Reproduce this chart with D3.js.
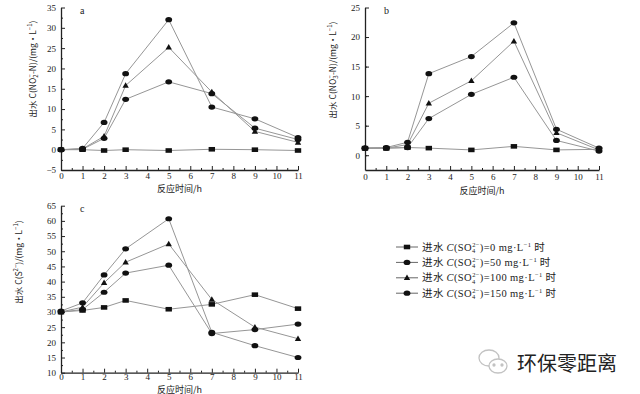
<!DOCTYPE html>
<html>
<head>
<meta charset="utf-8">
<script src="https://cdn.jsdelivr.net/npm/d3@7"></script>
<style>
body { margin: 0; background: #fff; }
svg { display: block; }
text { font-family: "Liberation Serif", "DejaVu Serif", serif; fill: #222; }
.cjk { font-family: "Noto Sans CJK SC", sans-serif; }
</style>
</head>
<body>
<svg width="640" height="394"></svg>
<script>
// hours of sampling
var hours = [0, 1, 2, 3, 5, 7, 9, 11];
var doses = ["0", "50", "100", "150"];
var shapes = ["square", "circle", "triangle", "circle"];

// panel a: nitrite
var a0 = [0, 0, -0.2, 0, -0.2, 0.1, 0, -0.2];
var a50 = [0, 0.1, 2.8, 12.4, 16.7, 13.8, 5.3, 2.5];
var a100 = [0, 0.2, 3.3, 15.8, 25.2, 14.2, 4.5, 1.8];
var a150 = [0, 0.3, 6.7, 18.7, 32, 10.5, 7.6, 3.0];

// panel b: nitrate
var b0 = [1.2, 1.2, 1.3, 1.2, 0.9, 1.5, 0.9, 1.0];
var b50 = [1.2, 1.2, 1.3, 6.2, 10.3, 13.2, 2.5, 0.7];
var b100 = [1.2, 1.2, 1.8, 8.8, 12.6, 19.3, 3.8, 0.9];
var b150 = [1.2, 1.3, 2.2, 13.8, 16.7, 22.4, 4.4, 1.2];

// panel c: sulfide
var c0 = [30, 30.5, 31.5, 33.8, 30.9, 32.5, 35.7, 31.1];
var c50 = [30, 30.8, 36.5, 42.8, 45.4, 22.9, 24.2, 26.0];
var c100 = [30, 31.6, 39.6, 46.4, 52.4, 34.1, 25.0, 21.2];
var c150 = [30.3, 33, 42.2, 50.8, 60.7, 23.3, 18.9, 15.0];

var svg = d3.select("svg");

var panels = [
    {name: "a", series: [a0, a50, a100, a150], xr: [61, 298], dom: [-5, 35], yr: [170, 7.5],
     label: ["出水 C(NO", "2", "−", "-N)/(mg·L", "−1", ")"], lx: 36, ly: 69, pad: 3, ty: 21.5},
    {name: "b", series: [b0, b50, b100, b150], xr: [365, 599], dom: [-2.5, 25], yr: [170, 7.5],
     label: ["出水 C(NO", "3", "−", "-N)/(mg·L", "−1", ")"], lx: 336, ly: 70, pad: 4, ty: 23.5},
    {name: "c", series: [c0, c50, c100, c150], xr: [61, 298], dom: [10, 65], yr: [372.7, 205.7],
     label: ["出水 C(S", "", "2−", ")/(mg·L", "−1", ")"], lx: 22, ly: 262, pad: 1, ty: 19.8}
];

function marker(g, shape, x, y) {
    if (shape == "square") {
        g.append("rect").attr("x", x - 3.2).attr("y", y - 2.3).attr("width", 6.4).attr("height", 4.6).attr("fill", "#111");
    } else if (shape == "triangle") {
        g.append("path").attr("d", "M" + (x - 3.2) + "," + (y + 2.3) + "L" + x + "," + (y - 3.2) + "L" + (x + 3.2) + "," + (y + 2.3) + "Z").attr("fill", "#111");
    } else {
        g.append("ellipse").attr("cx", x).attr("cy", y).attr("rx", 3.4).attr("ry", 2.6).attr("fill", "#111");
    }
}

panels.forEach(function(p) {
    var x = d3.scaleLinear().domain([0, 11]).range(p.xr);
    var y = d3.scaleLinear().domain(p.dom).range(p.yr);
    var g = svg.append("g");
    var step = 5;

    // minor ticks
    g.append("g").attr("transform", "translate(0," + p.yr[0] + ")")
        .call(d3.axisBottom(x).tickValues(d3.range(0.5, 11, 1)).tickSize(-2).tickFormat(""))
        .call(function(s) { s.select(".domain").remove(); });
    g.append("g").attr("transform", "translate(" + p.xr[0] + ",0)")
        .call(d3.axisLeft(y).tickValues(d3.range(p.dom[0] + 2.5, p.dom[1], 5)).tickSize(-2).tickFormat(""))
        .call(function(s) { s.select(".domain").remove(); });

    // major axes
    g.append("g").attr("transform", "translate(0," + p.yr[0] + ")")
        .call(d3.axisBottom(x).tickValues(d3.range(0, 12)).tickSizeInner(-4).tickSizeOuter(0).tickPadding(p.pad));
    var ticksY = d3.range(Math.ceil(p.dom[0] / step) * step, p.dom[1] + 0.1, step);
    g.append("g").attr("transform", "translate(" + p.xr[0] + ",0)")
        .call(d3.axisLeft(y).tickValues(ticksY).tickSizeInner(-4).tickSizeOuter(0).tickPadding(5));
    g.selectAll(".domain").attr("stroke", "#222").attr("stroke-width", 1.3);
    g.selectAll(".tick line").attr("stroke", "#222");
    g.selectAll(".tick text").style("font-family", "'Liberation Serif', serif").attr("font-size", 9).attr("fill", "#333");

    // lines
    var line = d3.line().x(function(d, i) { return x(hours[i]); }).y(function(d) { return y(d); });
    p.series.forEach(function(s) {
        g.append("path").datum(s).attr("d", line).attr("fill", "none").attr("stroke", "#969696").attr("stroke-width", 1);
    });
    p.series.forEach(function(s, k) {
        s.forEach(function(v, i) { marker(g, shapes[k], x(hours[i]), y(v)); });
    });

    // panel letter
    g.append("text").attr("x", p.xr[0] + 19).attr("y", p.yr[1] + 6).attr("font-size", 10).text(p.name);

    // x title
    g.append("text").attr("class", "cjk").attr("x", (p.xr[0] + p.xr[1]) / 2).attr("y", p.yr[0] + p.ty)
        .attr("text-anchor", "middle").attr("font-size", 9).attr("fill", "#333").text("反应时间/h");

    // y title
    var t = g.append("text").attr("class", "cjk").attr("transform", "translate(" + p.lx + "," + p.ly + ") rotate(-90)")
        .attr("text-anchor", "middle").attr("font-size", 8.5).attr("fill", "#333");
    t.append("tspan").text(p.label[0]);
    if (p.label[1]) t.append("tspan").attr("font-size", 6).attr("dy", 2).text(p.label[1]);
    t.append("tspan").attr("font-size", 6).attr("dx", p.label[1] ? -3 : 0).attr("dy", p.label[1] ? -6 : -4).text(p.label[2]);
    t.append("tspan").attr("dy", 4).text(p.label[3]);
    t.append("tspan").attr("font-size", 6).attr("dy", -4).text(p.label[4]);
    t.append("tspan").attr("dy", 4).text(p.label[5]);
});

// legend
var leg = svg.append("g");
doses.forEach(function(d, i) {
    var yy = 247 + i * 15.4;
    leg.append("line").attr("x1", 396).attr("x2", 418).attr("y1", yy).attr("y2", yy).attr("stroke", "#666").attr("stroke-width", 1);
    marker(leg, shapes[i], 407, yy);
    var t = leg.append("text").attr("x", 422).attr("y", yy + 3.5).attr("font-size", 10.5)
        .attr("letter-spacing", 0.4).attr("fill", "#333");
    t.append("tspan").attr("class", "cjk").text("进水 ");
    t.append("tspan").attr("font-style", "italic").text("C");
    t.append("tspan").text("(SO");
    t.append("tspan").attr("font-size", 6.5).attr("dy", 2.5).text("4");
    t.append("tspan").attr("font-size", 6.5).attr("dx", -3.6).attr("dy", -6.5).text("2−");
    t.append("tspan").attr("dy", 4).text(")=" + d + " mg·L");
    t.append("tspan").attr("font-size", 6.5).attr("dy", -4).text("−1");
    t.append("tspan").attr("class", "cjk").attr("dy", 4).text(" 时");
});

// watermark
var wm = svg.append("g").attr("fill", "none").attr("stroke", "#c2c2c2").attr("stroke-width", 1.3);
wm.append("ellipse").attr("cx", 489).attr("cy", 358).attr("rx", 10).attr("ry", 8);
wm.append("ellipse").attr("cx", 498).attr("cy", 366).attr("rx", 9).attr("ry", 7).attr("fill", "#fff");
wm.append("circle").attr("cx", 494).attr("cy", 365).attr("r", 1).attr("fill", "#c2c2c2");
wm.append("circle").attr("cx", 502).attr("cy", 365).attr("r", 1).attr("fill", "#c2c2c2");
svg.append("text").attr("class", "cjk").attr("x", 517).attr("y", 371).attr("font-size", 20)
    .attr("fill", "#c4c4c4").text("环保零距离");
</script>
</body>
</html>
